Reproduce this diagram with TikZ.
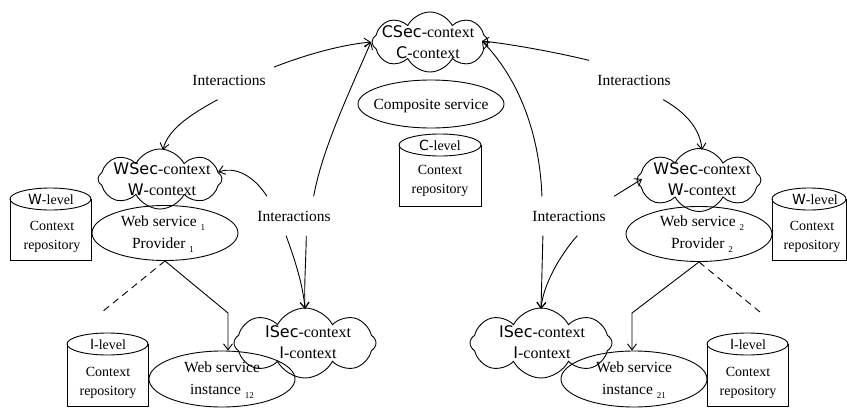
\documentclass[tikz,border=0pt]{standalone}
\usepackage{fontspec}
\setmainfont{Liberation Serif}
\newfontfamily\cfont{DejaVu Sans}
\usetikzlibrary{shapes.geometric,shapes.symbols,arrows.meta}
\newcommand\sbs[1]{\raisebox{-0.5ex}{\fontsize{9}{9}\selectfont #1}}
% cylinder outline: cx, top, bottom, halfwidth
\newcommand\repodraw[4]{%
  \draw (#1-#4,#2+11) -- (#1-#4,#3) -- (#1+#4,#3) -- (#1+#4,#2+11);
  \draw (#1,#2+11) ellipse [x radius=#4, y radius=11];}
\begin{document}
\begin{tikzpicture}[x=1pt,y=-1pt,line width=0.9pt,
  txt/.style={font=\fontsize{15.5}{22}\selectfont,align=center,inner sep=0pt},
  ctxt/.style={font=\fontsize{16}{21}\selectfont,align=center,inner sep=0pt},
  rtxt/.style={font=\fontsize{14}{19}\selectfont,align=center,inner sep=0pt},
  cloudbox/.style={cloud,draw,cloud puffs=8,cloud puff arc=125,cloud ignores aspect,inner sep=0pt},
  ellbox/.style={ellipse,draw,inner sep=0pt,minimum width=146pt,minimum height=55pt},
  lbl/.style={font=\fontsize{15.5}{18}\selectfont,inner xsep=8pt,inner ysep=14pt},
  arr/.style={-{Straight Barb[length=6pt,width=9pt]}},
  dsh/.style={dash pattern=on 7pt off 5pt}]
\useasboundingbox (0,0) rectangle (847,410);

% ---- C level
\node[cloudbox,minimum width=116pt,minimum height=60pt] (cc) at (430,42) {};
\node[ctxt] (cct) at (428,42) {{\cfont CSec}-context\\{\cfont C}-context};
\node[ellbox,minimum height=48pt] (cs) at (431,104) {};
\node[txt] (cst) at (431,106) {Composite service};
\repodraw{440}{134}{206}{41}
\node[rtxt] (crl) at (440,145) {{\cfont C}-level};
\node[rtxt] (crt) at (440,181) {Context\\repository};

% ---- W level left
\node[cloudbox,minimum width=124pt,minimum height=60pt] (w1c) at (160,179) {};
\node[ctxt] (w1ct) at (162,179) {{\cfont WSec}-context\\{\cfont W}-context};
\node[ellbox] (ws1) at (165,233) {};
\node[txt] (ws1t) at (163,234) {Web service \sbs{1}\\Provider \sbs{1}};
\repodraw{50.5}{188}{260}{40.5}
\node[rtxt] (wrl1) at (51,199) {{\cfont W}-level};
\node[rtxt] (wrt1) at (52,236.5) {Context\\repository};

% ---- W level right
\node[cloudbox,minimum width=124pt,minimum height=63pt] (w2c) at (699,180) {};
\node[ctxt] (w2ct) at (702,179) {{\cfont WSec}-context\\{\cfont W}-context};
\node[ellbox] (ws2) at (699,234) {};
\node[txt] (ws2t) at (702,234) {Web service \sbs{2}\\Provider \sbs{2}};
\repodraw{809}{188}{260}{37}
\node[rtxt] (wrl2) at (815,199) {{\cfont W}-level};
\node[rtxt] (wrt2) at (812,236.5) {Context\\repository};

% ---- I level left
\node[ellbox,minimum height=56pt] (wi12) at (222,379) {};
\node[txt] (wi12t) at (222,380) {Web service\\instance \sbs{12}};
\repodraw{107.5}{333}{406}{40.5}
\node[rtxt] (irl1) at (108,344) {{\cfont I}-level};
\node[rtxt] (irt1) at (108,382.5) {Context\\repository};
\node[cloudbox,minimum width=142pt,minimum height=70pt] (i1c) at (305,343) {};
\node[ctxt] (i1ct) at (308,342) {{\cfont ISec}-context\\{\cfont I}-context};

% ---- I level right
\node[ellbox,minimum height=56pt] (wi21) at (634,379) {};
\node[txt] (wi21t) at (634,380) {Web service\\instance \sbs{21}};
\repodraw{747.5}{333}{406}{40.5}
\node[rtxt] (irl2) at (748,344) {{\cfont I}-level};
\node[rtxt] (irt2) at (748,382.5) {Context\\repository};
\node[cloudbox,minimum width=142pt,minimum height=70pt] (i2c) at (541,343) {};
\node[ctxt] (i2ct) at (542,342) {{\cfont ISec}-context\\{\cfont I}-context};

% ---- Interaction labels
\node[lbl] (la) at (229,80) {Interactions};
\node[lbl] (lb) at (634,80) {Interactions};
\node[lbl] (lc) at (294,216) {Interactions};
\node[lbl] (ld) at (569,216) {Interactions};

% ---- arrow end points on clouds
\coordinate (ccL) at (371,42);
\coordinate (ccR) at (482,41);
\coordinate (w1top) at (163,150);
\coordinate (w1rt) at (218,172);
\coordinate (w2top) at (702,150);
\coordinate (w2lf) at (642,179);
\coordinate (isL) at (305,309);
\coordinate (isR) at (541,309);

\draw[arr] (la.16) .. controls (305,55) and (340,45) .. (ccL);
\draw[arr] (la.-120) .. controls (195,112) and (168,128) .. (w1top);
\draw[arr] (lc.144) .. controls (258,182) and (240,165) .. (w1rt);
\draw[arr] (lc.45) .. controls (322,150) and (348,95) .. (ccL);
\draw[arr] (lc.-112) .. controls (295,260) and (303,285) .. (isL);
\draw[arr] (lc.-58) .. controls (306,260) and (304,285) .. (isL);
\draw[arr] (lb.north west) .. controls (555,52) and (510,44) .. (ccR);
\draw[arr] (ld.144) .. controls (540,140) and (522,82) .. (ccR);
\draw[arr] (lb.-34) .. controls (685,112) and (700,128) .. (w2top);
\draw[arr] (ld.north east) -- (w2lf);
\draw[arr] (ld.-143) -- (isR);
\draw[arr] (ld.-67) .. controls (560,255) and (543,285) .. (isR);

% ---- provider -> instance
\coordinate (k1) at (228,313);
\coordinate (k2) at (632,313);
\coordinate (d1) at (102,312);
\coordinate (d2) at (760,312);
\draw[arr] (ws1.south) -- (k1) -- (k1 |- wi12.north);
\draw[arr] (ws2.south) -- (k2) -- (k2 |- wi21.north);
\draw[dsh] (ws1.south) -- (d1);
\draw[dsh] (ws2.south) -- (d2);
\end{tikzpicture}
\end{document}
